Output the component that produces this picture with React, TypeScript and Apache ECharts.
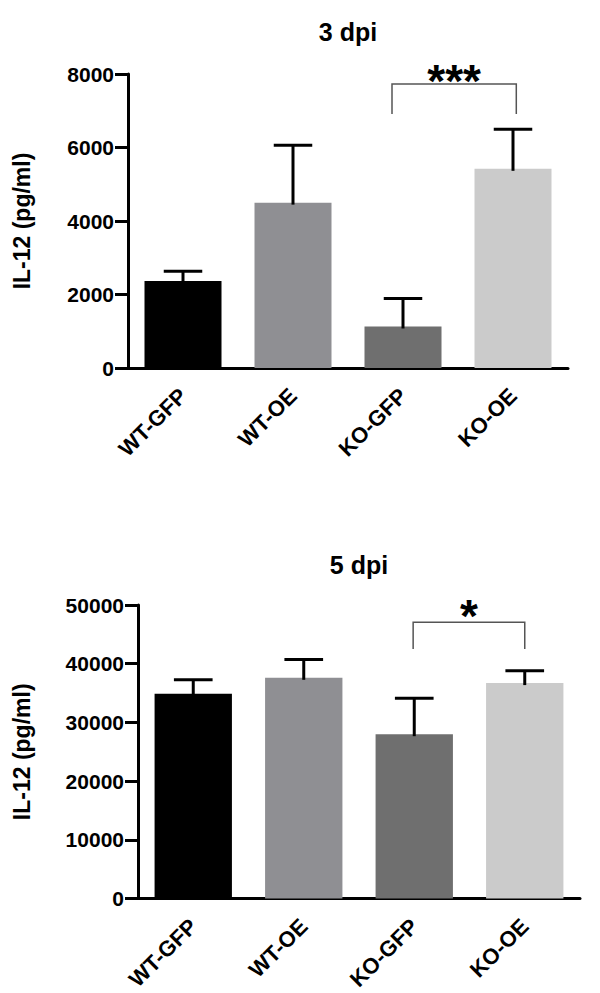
import React, { useEffect, useRef } from "react";
import * as echarts from "echarts";

const categories = ["WT-GFP", "WT-OE", "KO-GFP", "KO-OE"];
const barColors = ["#000000", "#8f8f93", "#6f6f6f", "#cbcbcb"];

// 3 dpi
const means3 = [2370, 4500, 1130, 5420];
const sem3 = [260, 1560, 760, 1080];
// 5 dpi
const means5 = [34900, 37600, 28000, 36700];
const sem5 = [2350, 3100, 6100, 2100];

const titles = ["3 dpi", "5 dpi"];
const yName = "IL-12 (pg/ml)";
const yMax = [8000, 50000];
const yStep = [2000, 10000];
// significance brackets: [leftIdx, leftOffset(band), rightIdx, rightOffset(band), yTop, yDrop, yStar, label]
const brackets: [number, number, number, number, number, number, number, string][] = [
  [2, -0.1, 3, 0.03, 7730, 6910, 7900, "***"],
  [2, -0.01, 3, 0.0, 47070, 42500, 48600, "*"],
];

const FONT = "'Liberation Sans', Arial, Helvetica, sans-serif";

export default function App() {
  const ref = useRef<HTMLDivElement>(null);
  useEffect(() => {
    if (!ref.current) return;
    const chart = echarts.init(ref.current, undefined, { renderer: "svg" });
    const grids = [
      { left: 128, top: 74, width: 440, height: 294 },
      { left: 138, top: 605, width: 442, height: 295 },
    ];
    const nameGaps = [95, 105];
    const allMeans = [means3, means5];
    const allSem = [sem3, sem5];

    const xAxes = grids.map((_, i) => ({
      type: "category",
      gridIndex: i,
      data: categories,
      axisLine: { lineStyle: { color: "#000", width: 3 } },
      axisTick: { alignWithLabel: true, length: 12, lineStyle: { color: "#000", width: 3 } },
      axisLabel: {
        rotate: 45,
        margin: 24,
        color: "#000",
        fontSize: 22,
        fontWeight: "bold",
        fontFamily: FONT,
        interval: 0,
      },
    }));
    const yAxes = grids.map((_, i) => ({
      type: "value",
      gridIndex: i,
      min: 0,
      max: yMax[i],
      interval: yStep[i],
      name: yName,
      nameLocation: "middle",
      nameGap: nameGaps[i],
      nameTextStyle: { color: "#000", fontSize: 23, fontWeight: "bold", fontFamily: FONT },
      splitLine: { show: false },
      axisLine: { show: true, lineStyle: { color: "#000", width: 3 } },
      axisTick: { show: true, length: 13, lineStyle: { color: "#000", width: 3 } },
      axisLabel: {
        margin: 14,
        color: "#000",
        fontSize: 21,
        fontWeight: "bold",
        fontFamily: FONT,
        formatter: (v: number) => String(v),
      },
    }));

    const series: any[] = [];
    grids.forEach((_, i) => {
      series.push({
        type: "bar",
        xAxisIndex: i,
        yAxisIndex: i,
        barCategoryGap: "30%",
        data: allMeans[i].map((v, k) => ({ value: v, itemStyle: { color: barColors[k] } })),
        z: 2,
      });
      series.push({
        type: "custom",
        xAxisIndex: i,
        yAxisIndex: i,
        z: 3,
        data: allMeans[i].map((v, k) => [k, v, v + allSem[i][k]]),
        renderItem: (params: any, api: any) => {
          const x = api.value(0);
          const p0 = api.coord([x, api.value(1)]);
          const p1 = api.coord([x, api.value(2)]);
          const w = (api.size([1, 0])[0] * 0.35) / 2;
          const st = { stroke: "#000", lineWidth: 3 };
          return {
            type: "group",
            children: [
              { type: "line", shape: { x1: p0[0], y1: p0[1] + 2, x2: p1[0], y2: p1[1] }, style: st },
              { type: "line", shape: { x1: p1[0] - w, y1: p1[1], x2: p1[0] + w, y2: p1[1] }, style: st },
            ],
          };
        },
      });
      const b = brackets[i];
      series.push({
        type: "custom",
        xAxisIndex: i,
        yAxisIndex: i,
        z: 4,
        data: [[b[0], b[4]]],
        renderItem: (params: any, api: any) => {
          const band = api.size([1, 0])[0];
          const xl = api.coord([b[0], b[4]])[0] + b[1] * band;
          const xr = api.coord([b[2], b[4]])[0] + b[3] * band;
          const yt = api.coord([b[0], b[4]])[1];
          const yd = api.coord([b[0], b[5]])[1];
          const ys = api.coord([b[0], b[6]])[1];
          return {
            type: "group",
            children: [
              {
                type: "polyline",
                shape: { points: [[xl, yd], [xl, yt], [xr, yt], [xr, yd]] },
                style: { stroke: "#555", lineWidth: 1.5, fill: null },
              },
              {
                type: "text",
                style: {
                  text: b[7],
                  x: (xl + xr) / 2,
                  y: ys + 3,
                  textAlign: "center",
                  textVerticalAlign: "middle",
                  fontSize: 46,
                  fontWeight: "bold",
                  fontFamily: FONT,
                  fill: "#000",
                },
              },
            ],
          };
        },
      });
    });

    chart.setOption({
      animation: false,
      backgroundColor: "#fff",
      grid: grids,
      xAxis: xAxes,
      yAxis: yAxes,
      graphic: grids.map((g, i) => ({
        type: "text",
        x: g.left + g.width / 2,
        y: i === 0 ? 32 : 565,
        style: {
          text: titles[i],
          textAlign: "center",
          textVerticalAlign: "middle",
          fontSize: 25,
          fontWeight: "bold",
          fontFamily: FONT,
          fill: "#000",
        },
      })),
      series,
    });
    return () => chart.dispose();
  }, []);
  return (
    <div
      ref={ref}
      style={{ position: "absolute", left: 0, top: 0, width: 600, height: 993, background: "#fff" }}
    />
  );
}
